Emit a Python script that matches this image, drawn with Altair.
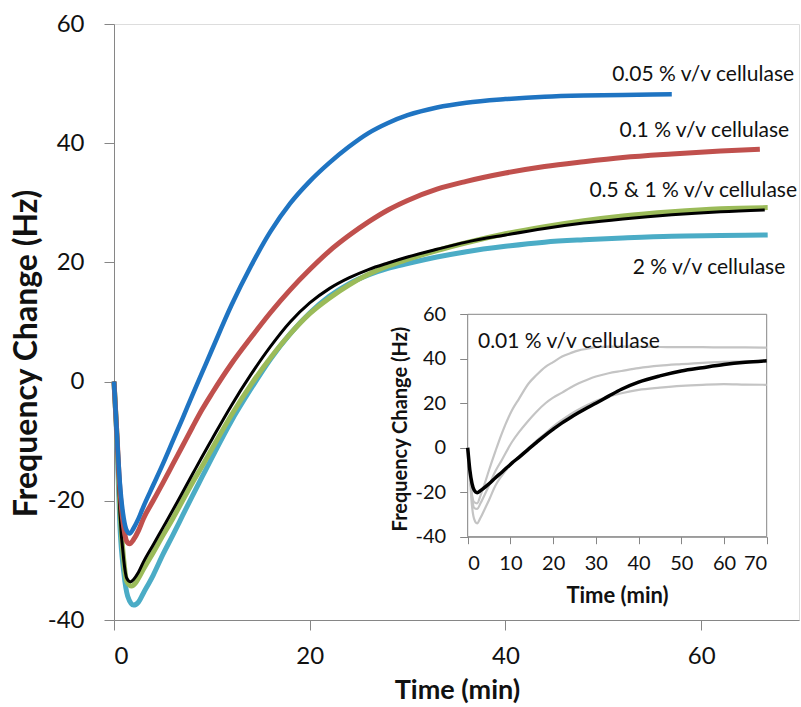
import altair as alt
import pandas as pd

# ---------------- main chart data ----------------
blue_t = [0, 0.3, 0.6, 1.0, 1.3, 1.6, 2.0, 2.5, 3, 4, 5, 6, 7, 8, 9, 10, 12, 14, 16, 18, 20, 22, 24, 26, 28, 30, 33, 36, 40, 44, 48, 52, 57]
blue_v = [0, -9, -17, -23, -25, -25.5, -24.6, -23.0, -21.0, -17.4, -13.8, -10.0, -6.2, -2.3, 1.5, 5.3, 12.8, 19.4, 25.2, 29.9, 33.6, 36.7, 39.4, 41.7, 43.4, 44.7, 46.0, 46.8, 47.4, 47.8, 48.0, 48.1, 48.2]

red_t = [0, 0.3, 0.6, 1.0, 1.3, 1.6, 2.0, 2.5, 3, 4, 5, 6, 7, 8, 9, 10, 12, 14, 16, 18, 20, 22, 24, 26, 28, 30, 33, 36, 40, 44, 48, 52, 57, 62, 66]
red_v = [0, -9, -18, -24.5, -26.8, -27.2, -26.5, -25.0, -23.0, -20.0, -17.0, -13.9, -10.8, -7.7, -4.7, -2.0, 3.0, 7.4, 11.6, 15.4, 18.8, 21.9, 24.5, 26.8, 28.8, 30.4, 32.3, 33.6, 35.0, 36.1, 36.9, 37.6, 38.2, 38.7, 39.0]

black_t = [0, 0.3, 0.6, 1.0, 1.3, 1.7, 2.0, 2.5, 3, 4, 5, 6, 7, 8, 9, 10, 12, 14, 16, 18, 20, 22, 24, 26, 28, 30, 33, 36, 40, 44, 48, 52, 57, 62, 66.5]
black_v = [0, -10, -22, -30, -33, -33.6, -33.2, -32.0, -30.3, -27.4, -24.5, -21.6, -18.6, -15.6, -12.6, -9.7, -4.0, 1.2, 5.9, 10.0, 13.2, 15.6, 17.4, 18.8, 19.9, 20.9, 22.2, 23.4, 24.6, 25.7, 26.6, 27.3, 28.0, 28.5, 28.8]

green_t = [0, 0.3, 0.6, 1.0, 1.3, 1.8, 2.2, 2.5, 3, 4, 5, 6, 7, 8, 9, 10, 12, 14, 16, 18, 20, 22, 24, 26, 28, 30, 33, 36, 40, 44, 48, 52, 57, 62, 66.8]
green_v = [0, -9, -21, -30, -33.5, -34.3, -33.8, -33.0, -31.5, -28.7, -25.8, -23.0, -20.0, -17.0, -14.2, -11.3, -5.6, -0.5, 4.0, 8.0, 11.4, 14.0, 16.2, 18.0, 19.4, 20.5, 22.0, 23.3, 24.8, 26.0, 27.0, 27.8, 28.5, 29.0, 29.2]

cyan_t = [0, 0.3, 0.6, 1.0, 1.4, 2.0, 2.5, 3, 4, 5, 6, 7, 8, 9, 10, 12, 14, 16, 18, 20, 22, 24, 26, 28, 30, 33, 36, 40, 44, 48, 52, 57, 62, 66.8]
cyan_v = [0, -10, -24, -32, -36, -37.5, -37.0, -35.5, -32.5, -29.0, -25.8, -22.5, -19.2, -16.0, -12.8, -6.6, -1.2, 3.8, 8.0, 11.5, 14.3, 16.4, 17.9, 19.0, 19.8, 20.9, 21.8, 22.7, 23.4, 23.8, 24.1, 24.4, 24.5, 24.6]

main_labels = ["0.05 % v/v cellulase", "0.1 % v/v cellulase", "0.5 & 1 % v/v cellulase", "2 % v/v cellulase"]
main_label_t = [69.5, 69.0, 69.8, 68.6]
main_label_v = [51.5, 42.1, 32.0, 19.1]

# ---------------- inset data ----------------
inset_t = [0, 0.5, 1, 1.5, 2.2, 3, 4, 5, 6.5, 8, 10.4, 12, 14.3, 16, 18.2, 20, 22.1, 24, 26, 28, 30, 33, 36, 40, 45, 50, 55, 60, 65, 70]
inset_black = [0, -10, -16, -19, -20.2, -19.3, -17.8, -16.2, -13.5, -11.0, -6.8, -4.3, -0.5, 2.2, 5.7, 8.3, 11.2, 13.5, 15.8, 18.0, 20.0, 23.2, 26.3, 29.5, 32.3, 34.5, 36.0, 37.4, 38.4, 39.1]
inset_gray1 = [0, -12, -21, -24.5, -25, -21.5, -16, -10, -1.5, 6.5, 17, 22, 29, 32.5, 36.4, 38.5, 41, 42.5, 43.8, 44.5, 45.2, 45.5, 45.5, 45.4, 45.3, 45.2, 45.2, 45.1, 45.1, 45.0]
inset_gray2 = [0, -11, -22, -27, -27.5, -25, -21, -17, -10.5, -5.5, 2.7, 7, 12.4, 16, 20, 22.5, 24.8, 27, 29, 30.6, 32, 33.5, 34.5, 35.8, 36.9, 37.6, 38.2, 38.6, 38.9, 39.1]
inset_gray3 = [0, -13, -26, -32, -34, -31.5, -27.5, -23.5, -17, -12.5, -7, -4, 0, 3, 6.5, 9.5, 12.5, 15, 17.2, 19.2, 21, 23, 24.5, 26, 27, 27.8, 28.3, 28.6, 28.4, 28.3]
inset_label = ["0.01 % v/v cellulase"]
inset_label_t = [2.4]
inset_label_v = [47.5]
inset_box_x = [0, 70]
inset_box_y = [-40, 60]

FONT = "Lato"
AX = "#868686"
W, H = 685, 596
LBL = "'' + datum.value"

# ---------------- main chart ----------------
mx_scale = alt.Scale(domain=[0, 70], nice=False, zero=False)
my_scale = alt.Scale(domain=[-40, 60], nice=False, zero=False)
mx_axis = alt.Axis(values=[0, 20, 40, 60], grid=False, title="Time (min)", labelExpr=LBL,
                   labelFont=FONT, labelFontSize=24, labelColor="#111", labelPadding=14,
                   domainColor=AX, tickColor=AX, tickSize=10,
                   titleFont=FONT, titleFontSize=27, titleFontWeight="bold", titleColor="#111",
                   titleX=343, titleY=70, titleBaseline="middle", titleLimit=1000)
my_axis = alt.Axis(values=[-40, -20, 0, 20, 40, 60], grid=False, title="Frequency Change (Hz)", labelExpr=LBL,
                   labelFont=FONT, labelFontSize=24, labelColor="#111", labelPadding=20,
                   domainColor=AX, tickColor=AX, tickSize=10,
                   titleFont=FONT, titleFontSize=32, titleFontWeight="bold", titleColor="#111",
                   titleX=-88, titleY=329, titleBaseline="middle", titleAngle=270, titleLimit=1000)

def main_line(ts, vs, color, width):
    df = pd.DataFrame({"t": ts, "v": vs})
    return alt.Chart(df).mark_line(color=color, strokeWidth=width, strokeJoin="round",
                                   interpolate="monotone").encode(
        x=alt.X("t:Q", scale=mx_scale, axis=mx_axis),
        y=alt.Y("v:Q", scale=my_scale, axis=my_axis),
    )

main_lab_df = pd.DataFrame({"t": main_label_t, "v": main_label_v, "txt": main_labels})
main_text = alt.Chart(main_lab_df).mark_text(font=FONT, fontSize=21, align="right", baseline="middle", color="#111").encode(
    x=alt.X("t:Q", scale=mx_scale, axis=mx_axis),
    y=alt.Y("v:Q", scale=my_scale, axis=my_axis),
    text="txt:N",
)

main = alt.layer(
    main_line(cyan_t, cyan_v, "#4bacc6", 5),
    main_line(green_t, green_v, "#9bbb59", 5),
    main_line(black_t, black_v, "#000000", 3),
    main_line(red_t, red_v, "#c0504d", 5),
    main_line(blue_t, blue_v, "#1f74c2", 4.5),
    main_text,
)

# ---------------- inset ----------------
IX0, IX1 = 353.7, 652.7
IYB, IYT = 512.7, 290.3
ix_scale = alt.Scale(domain=[0, 70], range=[IX0, IX1], nice=False, zero=False)
iy_scale = alt.Scale(domain=[-40, 60], range=[IYB, IYT], nice=False, zero=False)
ix_axis = alt.Axis(values=[0, 10, 20, 30, 40, 50, 60, 70], grid=False, title="Time (min)", orient="bottom",
                   offset=-(H - IYB), labelExpr=LBL,
                   labelFont=FONT, labelFontSize=20, labelColor="#111", labelPadding=10,
                   domainColor=AX, tickColor=AX, tickSize=7,
                   titleFont=FONT, titleFontSize=22, titleFontWeight="bold", titleColor="#111",
                   titleX=503, titleY=59, titleBaseline="middle", titleLimit=1000)
iy_axis = alt.Axis(values=[-40, -20, 0, 20, 40, 60], grid=False, title="Frequency Change (Hz)", orient="left",
                   offset=-IX0, labelExpr=LBL,
                   labelFont=FONT, labelFontSize=20, labelColor="#111", labelPadding=14,
                   domainColor=AX, tickColor=AX, tickSize=8,
                   titleFont=FONT, titleFontSize=20, titleFontWeight="bold", titleColor="#111",
                   titleX=-67, titleY=404.5, titleBaseline="middle", titleAngle=270, titleLimit=1000)

box_df = pd.DataFrame({"x0": [inset_box_x[0]], "x1": [inset_box_x[1]], "y0": [inset_box_y[0]], "y1": [inset_box_y[1]]})
inset_box = alt.Chart(box_df).mark_rect(fill="white", stroke=AX, strokeWidth=1).encode(
    x=alt.X("x0:Q", scale=ix_scale, axis=ix_axis),
    x2="x1:Q",
    y=alt.Y("y0:Q", scale=iy_scale, axis=iy_axis),
    y2="y1:Q",
)

def inset_line(vs, color, width):
    df = pd.DataFrame({"t": inset_t, "v": vs})
    return alt.Chart(df).mark_line(color=color, strokeWidth=width, strokeJoin="round",
                                   interpolate="monotone").encode(
        x=alt.X("t:Q", scale=ix_scale, axis=ix_axis),
        y=alt.Y("v:Q", scale=iy_scale, axis=iy_axis),
    )

inset_lab_df = pd.DataFrame({"t": inset_label_t, "v": inset_label_v, "txt": inset_label})
inset_text = alt.Chart(inset_lab_df).mark_text(font=FONT, fontSize=21, align="left", baseline="middle", color="#111").encode(
    x=alt.X("t:Q", scale=ix_scale, axis=ix_axis),
    y=alt.Y("v:Q", scale=iy_scale, axis=iy_axis),
    text="txt:N",
)

inset = alt.layer(
    inset_box,
    inset_line(inset_gray1, "#c4c4c4", 2.2),
    inset_line(inset_gray2, "#c4c4c4", 2.2),
    inset_line(inset_gray3, "#c4c4c4", 2.2),
    inset_line(inset_black, "#000000", 3.5),
    inset_text,
)

chart = alt.layer(main, inset).resolve_scale(x="independent", y="independent").resolve_axis(
    x="independent", y="independent"
).properties(
    width=W, height=H,
    padding={"left": 114, "top": 24, "right": 2, "bottom": 87},
    autosize=alt.AutoSizeParams(type="none"),
).configure_view(stroke=AX, strokeWidth=1).configure(background="white")

chart.save("out.html", embed_options={"renderer": "svg", "actions": False})
